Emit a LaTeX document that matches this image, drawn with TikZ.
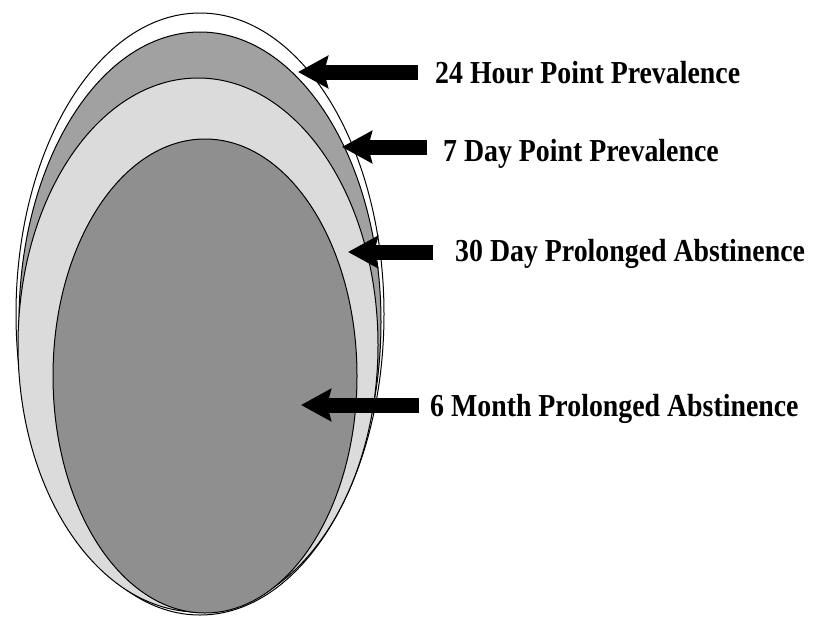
\documentclass[tikz,border=0pt]{standalone}
\usepackage{fontspec}
\newfontfamily\labelfont{Liberation Serif}[FakeStretch=0.87]
\definecolor{BandGrey}{gray}{0.63}
\definecolor{PaleGrey}{gray}{0.86}
\definecolor{CoreGrey}{gray}{0.56}
\usepackage{tikz}
\usetikzlibrary{arrows.meta}

\begin{document}
\begin{tikzpicture}[x=1pt,y=-1pt,
        ring/.style={draw=black,line width=1pt},
        lbl/.style={anchor=base west,inner sep=0pt,
                    font=\labelfont\bfseries\fontsize{32}{34}\selectfont},
        blockarrow/.style={line width=15pt,black,
                    -{Stealth[length=30pt,width=32pt,inset=4pt]}}]
        \useasboundingbox (0,0) rectangle (816,619);

        % nested ellipses, outermost first
        \draw[ring,fill=white]     (200,314) ellipse [x radius=184pt,y radius=301pt];
        \draw[ring,fill=BandGrey]  (200,322) ellipse [x radius=181pt,y radius=290pt];
        \draw[ring,fill=PaleGrey]  (198,345) ellipse [x radius=180pt,y radius=267pt];
        \draw[ring,fill=CoreGrey]  (205,376) ellipse [x radius=152pt,y radius=237pt];

        % arrow tips
        \coordinate (tip24) at (298,72);
        \coordinate (tip7)  at (342,147);
        \coordinate (tip30) at (348,252);
        \coordinate (tip6)  at (301,405);

        \node[lbl] (hour24)  at (435,83)  {24 Hour Point Prevalence};
        \node[lbl] (day7)    at (443,161) {7 Day Point Prevalence};
        \node[lbl] (day30)   at (455,261) {30 Day Prolonged Abstinence};
        \node[lbl] (month6)  at (430,416) {6 Month Prolonged Abstinence};

        \draw[blockarrow] ([xshift=-17pt]hour24.west |- tip24) -- (tip24);
        \draw[blockarrow] ([xshift=-16pt]day7.west |- tip7) -- (tip7);
        \draw[blockarrow] ([xshift=-22pt]day30.west |- tip30) -- (tip30);
        \draw[blockarrow] ([xshift=-11pt]month6.west |- tip6) -- (tip6);
\end{tikzpicture}
\end{document}
